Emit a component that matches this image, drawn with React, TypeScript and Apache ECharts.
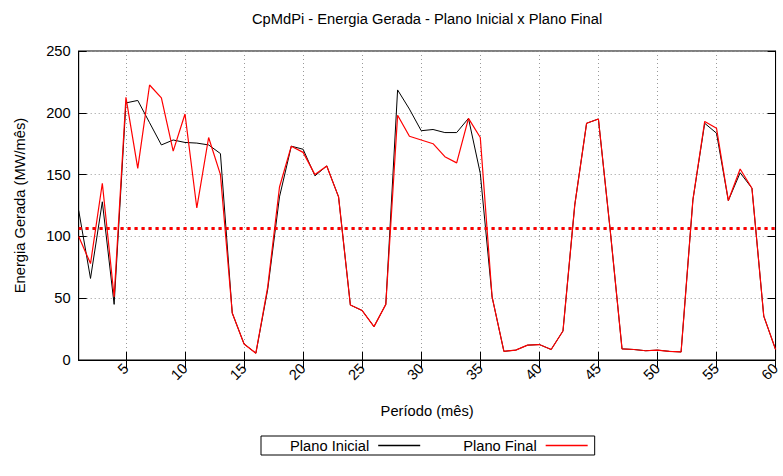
import React, { useEffect, useRef } from "react";
import * as echarts from "echarts";

const titleText = "CpMdPi - Energia Gerada - Plano Inicial x Plano Final";
const xAxisName = "Período (mês)";
const yAxisName = "Energia Gerada (MW/mês)";
const seriesNames = ["Plano Inicial", "Plano Final"];
const seriesColors = ["#000000", "#ff0000"];

const periods = [
  "1", "2", "3", "4", "5", "6", "7", "8", "9", "10",
  "11", "12", "13", "14", "15", "16", "17", "18", "19", "20",
  "21", "22", "23", "24", "25", "26", "27", "28", "29", "30",
  "31", "32", "33", "34", "35", "36", "37", "38", "39", "40",
  "41", "42", "43", "44", "45", "46", "47", "48", "49", "50",
  "51", "52", "53", "54", "55", "56", "57", "58", "59", "60",
];

const planoInicial = [
  121, 66, 128, 45, 208, 210, 192, 174, 178, 176,
  175.5, 174, 167, 38, 13, 5.5, 57, 132, 173, 170.5,
  149, 157, 132, 44.5, 40, 27, 45, 218.5, 203, 185.5,
  186.5, 184, 184, 195.5, 151, 51, 7, 8, 12, 12.5,
  8.5, 23.5, 125.5, 191.5, 195, 105, 9, 8.5, 7.5, 8,
  7, 6.5, 129.5, 191.5, 183.5, 129, 151.5, 139, 35.5, 8.5,
];

const planoFinal = [
  100, 78, 143, 51, 212.5, 155, 222.5, 212, 169, 199,
  123, 180, 150, 38, 13, 5.5, 59, 140, 173, 168,
  150, 157, 132, 44.5, 40, 27, 45, 198, 181, 178,
  175, 164.5, 159.5, 195.5, 180, 51, 7, 8, 12, 12.5,
  8.5, 23.5, 125.5, 191.5, 195, 105, 9, 8.5, 7.5, 8,
  7, 6.5, 129.5, 193, 187.5, 129, 154.5, 139, 35.5, 8.5,
];

const meanInicial = 106.8;
const meanFinal = 106.5;

const FONT = "'Liberation Sans', Arial, Helvetica, sans-serif";
const FS = 14.7;

const everyFifth = (_i: number, v: string) => Number(v) % 5 === 0;

export default function App() {
  const ref = useRef<HTMLDivElement>(null);
  useEffect(() => {
    if (!ref.current) return;
    const chart = echarts.init(ref.current, undefined, { renderer: "svg" });
    const tickStyle = { inside: true, length: 8, lineStyle: { color: "#000", width: 1 } };
    const gridLine = { lineStyle: { color: "#999", width: 1, type: [1, 3] as any } };
    chart.setOption({
      animation: false,
      textStyle: { fontFamily: FONT, color: "#000" },
      title: {
        text: titleText,
        left: 252,
        top: 11,
        padding: 0,
        textStyle: { fontFamily: FONT, fontSize: FS, fontWeight: "normal", color: "#000" },
      },
      grid: {
        left: 78.7,
        right: 7.3,
        top: 51,
        bottom: 116,
        show: true,
        borderColor: "#000",
        borderWidth: 1,
        backgroundColor: "transparent",
      },
      legend: {
        data: seriesNames.map((name, i) => ({ name, itemStyle: { color: seriesColors[i] } })),
        left: 261,
        top: 436,
        align: "right",
        icon: "rect",
        itemWidth: 42,
        itemHeight: 1.3,
        itemGap: 43,
        padding: [2, 7, 2, 29],
        borderColor: "#000",
        borderWidth: 1,
        borderRadius: 0,
        textStyle: { fontFamily: FONT, fontSize: FS, color: "#000", padding: [0, 4, 0, 0] },
      },
      xAxis: [
        {
          type: "category",
          data: periods,
          boundaryGap: false,
          name: xAxisName,
          nameLocation: "middle",
          nameGap: 43,
          nameTextStyle: { fontFamily: FONT, fontSize: FS, color: "#000" },
          axisLine: { lineStyle: { color: "#000", width: 1 } },
          axisTick: { ...tickStyle, interval: everyFifth },
          axisLabel: { interval: everyFifth, rotate: 45, margin: 6, fontFamily: FONT, fontSize: FS, color: "#000" },
          splitLine: { show: true, interval: everyFifth, ...gridLine },
        },
        {
          type: "category",
          data: periods,
          position: "top",
          boundaryGap: false,
          axisLine: { lineStyle: { color: "#000", width: 1 } },
          axisTick: { ...tickStyle, interval: everyFifth },
          axisLabel: { show: false },
          splitLine: { show: false },
        },
      ],
      yAxis: [
        {
          type: "value",
          min: 0,
          max: 250,
          interval: 50,
          name: yAxisName,
          nameLocation: "middle",
          nameGap: 51,
          nameTextStyle: { fontFamily: FONT, fontSize: FS, color: "#000" },
          axisLine: { show: true, lineStyle: { color: "#000", width: 1 } },
          axisTick: { show: true, ...tickStyle },
          axisLabel: { margin: 8, fontFamily: FONT, fontSize: FS, color: "#000" },
          splitLine: { show: true, ...gridLine },
        },
        {
          type: "value",
          position: "right",
          min: 0,
          max: 250,
          interval: 50,
          axisLine: { show: true, lineStyle: { color: "#000", width: 1 } },
          axisTick: { show: true, ...tickStyle },
          axisLabel: { show: false },
          splitLine: { show: false },
        },
      ],
      series: [
        {
          name: seriesNames[0],
          type: "line",
          data: planoInicial,
          symbol: "none",
          lineStyle: { color: seriesColors[0], width: 1 },
          itemStyle: { color: seriesColors[0] },
          markLine: {
            silent: true,
            symbol: "none",
            label: { show: false },
            lineStyle: { color: seriesColors[0], width: 2.5, type: [2, 5] as any },
            data: [{ yAxis: meanInicial }],
          },
        },
        {
          name: seriesNames[1],
          type: "line",
          data: planoFinal,
          symbol: "none",
          lineStyle: { color: seriesColors[1], width: 1.2 },
          itemStyle: { color: seriesColors[1] },
          markLine: {
            silent: true,
            symbol: "none",
            label: { show: false },
            lineStyle: { color: seriesColors[1], width: 3, type: [3, 4] as any },
            data: [{ yAxis: meanFinal }],
          },
        },
      ],
    });
    return () => chart.dispose();
  }, []);
  return (
    <div
      ref={ref}
      style={{ position: "absolute", left: 0, top: 0, width: 783, height: 476, background: "#fff" }}
    />
  );
}
